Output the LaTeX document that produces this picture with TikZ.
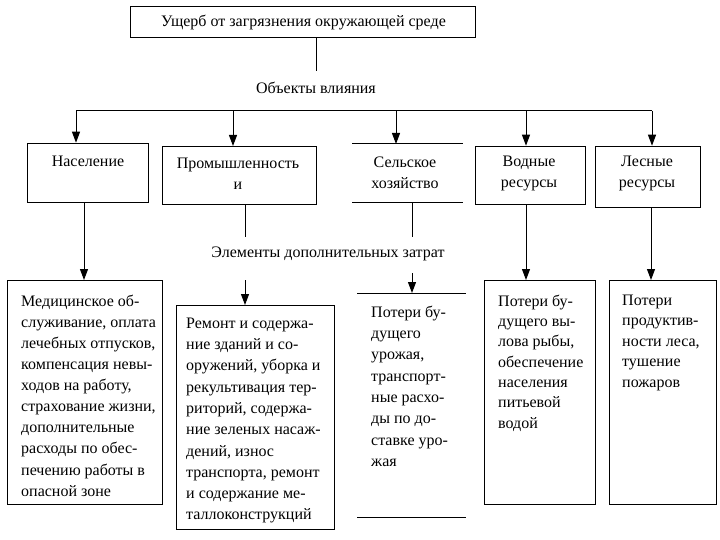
\documentclass[tikz,border=0pt]{standalone}
\usepackage{fontspec}
\setmainfont{Liberation Serif}
\usetikzlibrary{arrows.meta}
\begin{document}
\begin{tikzpicture}[x=1pt,y=-1pt,
  ln/.style={line width=1pt},
  box/.style={draw, line width=1pt, inner sep=0pt, anchor=north west},
  open/.style={inner sep=0pt, anchor=north west},
  lbl/.style={inner sep=0pt, font=\fontsize{16}{21}\selectfont, align=center},
  body/.style={inner sep=0pt, anchor=north west, align=left},
  arr/.style={line width=1pt, -{Triangle[length=11pt,width=8pt]}}]
\useasboundingbox (0,0) rectangle (720,540);
\fill[white] (0,0) rectangle (720,540);

% top box
\node[box, minimum width=345pt, minimum height=31.6pt] (top) at (130,5.7) {};
\node[lbl] (toptxt) at (303.5,23) {Ущерб от загрязнения окружающей среде};
\node[lbl] (objtxt) at (316,88) {Объекты влияния};

% objects
\node[box, minimum width=121pt, minimum height=59.3pt] (pop) at (27,142.7) {};
\node[box, minimum width=154pt, minimum height=58pt] (ind) at (162,146) {};
\node[open, minimum width=111pt, minimum height=58pt] (agr) at (352,144) {};
\node[box, minimum width=110pt, minimum height=58.3pt] (wat) at (475,145.7) {};
\node[box, minimum width=105pt, minimum height=61.3pt] (for) at (595,145.7) {};
\draw[ln] (agr.north west) -- (agr.north east);
\draw[ln] (agr.south west) -- (agr.south east);

\node[lbl] (poptxt) at (88,161) {Население};
\node[lbl] (indtxt) at (238,174) {Промышленность\\и};
\node[lbl] (agrtxt) at (405,173) {Сельское\\хозяйство};
\node[lbl] (wattxt) at (529,173) {Водные\\ресурсы};
\node[lbl] (fortxt) at (647,173) {Лесные\\ресурсы};

\node[lbl] (elemtxt) at (328,254) {Элементы дополнительных затрат};

% costs
\node[box, minimum width=155pt, minimum height=224pt] (b1) at (7,280) {};
\node[box, minimum width=158pt, minimum height=224pt] (b2) at (176,305) {};
\node[open, minimum width=109pt, minimum height=224pt] (b3) at (357,293) {};
\node[box, minimum width=111pt, minimum height=224pt] (b4) at (484,280) {};
\node[box, minimum width=107pt, minimum height=224pt] (b5) at (609,280) {};
\draw[ln] (b3.north west) -- (b3.north east);
\draw[ln] (b3.south west) -- (b3.south east);

\node[body, font=\fontsize{16}{21.1}\selectfont] (b1txt) at (21,294.6) {Медицинское об-\\служивание, оплата\\лечебных отпусков,\\компенсация невы-\\ходов на работу,\\страхование жизни,\\дополнительные\\расходы по обес-\\печению работы в\\опасной зоне};
\node[body, font=\fontsize{16}{21.3}\selectfont] (b2txt) at (186,317.6) {Ремонт и содержа-\\ние зданий и со-\\оружений, уборка и\\рекультивация тер-\\риторий, содержа-\\ние зеленых насаж-\\дений, износ\\транспорта, ремонт\\и содержание ме-\\таллоконструкций};
\node[body, font=\fontsize{16}{21.3}\selectfont] (b3txt) at (371,305.6) {Потери бу-\\дущего\\урожая,\\транспорт-\\ные расхо-\\ды по до-\\ставке уро-\\жая};
\node[body, font=\fontsize{16}{20.3}\selectfont] (b4txt) at (498,294.6) {Потери бу-\\дущего вы-\\лова рыбы,\\обеспечение\\населения\\питьевой\\водой};
\node[body, font=\fontsize{16}{20.5}\selectfont] (b5txt) at (622,294.6) {Потери\\продуктив-\\ности леса,\\тушение\\пожаров};

% connectors, top part
\coordinate (ob) at (316,70.7);
\draw[ln] (top.south -| ob) -- (ob);
\coordinate (bL) at (76,111);
\coordinate (bR) at (652,111);
\coordinate (a2) at (233,111);
\coordinate (a3) at (396,111);
\coordinate (a4) at (526,111);
\draw[ln] (bL) -- (bR);
\draw[arr] (bL) -- (bL |- pop.north);
\draw[arr] (a2) -- (a2 |- ind.north);
\draw[arr] (a3) -- (a3 |- agr.north);
\draw[arr] (a4) -- (a4 |- wat.north);
\draw[arr] (bR) -- (bR |- for.north);

% connectors, lower part
\coordinate (d1) at (84,0);
\draw[arr] (d1 |- pop.south) -- (d1 |- b1.north);
\coordinate (d2) at (245,237);
\coordinate (d2b) at (245,280);
\draw[ln] (d2 |- ind.south) -- (d2);
\draw[arr] (d2b) -- (d2b |- b2.north);
\coordinate (d3) at (412,237);
\coordinate (d3b) at (412,273);
\draw[ln] (d3 |- agr.south) -- (d3);
\draw[arr] (d3b) -- (d3b |- b3.north);
\coordinate (d4) at (526,0);
\draw[arr] (d4 |- wat.south) -- (d4 |- b4.north);
\coordinate (d5) at (651,0);
\draw[arr] (d5 |- for.south) -- (d5 |- b5.north);
\end{tikzpicture}
\end{document}
